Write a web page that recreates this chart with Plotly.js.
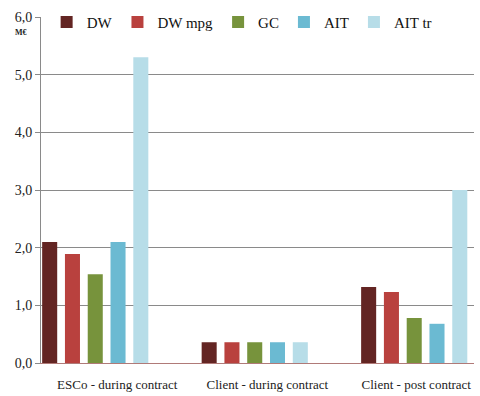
<!DOCTYPE html>
<html>
<head>
<meta charset="utf-8">
<script src="https://cdn.plot.ly/plotly-3.0.1.min.js"></script>
<style>html,body{margin:0;padding:0;background:#fff;}#chart{width:480px;height:396px;}</style>
</head>
<body>
<div id="chart"></div>
<script>
var categories = ["ESCo - during contract", "Client - during contract", "Client - post contract"];
var seriesNames = ["DW", "DW mpg", "GC", "AIT", "AIT tr"];
var DW = [2.1, 0.36, 1.32];
var DWmpg = [1.89, 0.36, 1.23];
var GC = [1.54, 0.36, 0.78];
var AIT = [2.1, 0.36, 0.68];
var AITtr = [5.3, 0.36, 3.0];
var emptyA = [0, 0, 0];
var emptyB = [0, 0, 0];
var yTicks = [0, 1, 2, 3, 4, 5, 6];
var colors = ["#632523", "#B9413E", "#77933C", "#6BBAD2", "#B7DDE8"];

var xIdx = categories.map(function(c, i){ return i; });
var values = [DW, DWmpg, GC, AIT, AITtr];
var traces = values.map(function(v, k){
  return {type:"bar", x:xIdx, y:v, name:seriesNames[k], marker:{color:colors[k]}, hoverinfo:"none"};
});
traces.push({type:"bar", x:xIdx, y:emptyA, showlegend:false, marker:{color:"#B9413E"}});
traces.push({type:"bar", x:xIdx, y:emptyB, showlegend:false, marker:{color:"#B9413E"}});

var serif = "Liberation Serif";
var layout = {
  width:480, height:396,
  margin:{l:41, r:6, t:7, b:33},
  paper_bgcolor:"#fff", plot_bgcolor:"#fff",
  separators:",.",
  barmode:"group", bargap:0, bargroupgap:0.34,
  font:{family:serif, size:14, color:"#222"},
  xaxis:{
    range:[-0.483, 2.232],
    tickmode:"array",
    tickvals:[-0.005, 0.936, 1.87],
    ticktext:categories,
    showgrid:false, zeroline:false, showline:true, linecolor:"#B07A78", linewidth:1,
    ticks:"", ticklabelstandoff:9,
    tickfont:{family:serif, size:13, color:"#222"}
  },
  yaxis:{
    range:[0, 6],
    tickmode:"array", tickvals:yTicks,
    tickformat:".1f",
    showgrid:true, gridcolor:"#8a8a8a", gridwidth:1,
    zeroline:false, showline:true, linecolor:"#8a8a8a", linewidth:1,
    ticks:"outside", ticklen:5, tickcolor:"#8a8a8a",
    tickfont:{family:serif, size:14, color:"#222"}
  },
  legend:{orientation:"h", x:0.013, xanchor:"left", y:0.985, yanchor:"middle",
    bgcolor:"rgba(0,0,0,0)", font:{family:serif, size:15, color:"#111"},
    itemwidth:30, traceorder:"normal"},
  annotations:[{text:"<b>M€</b>", xref:"paper", yref:"paper", x:-0.047, y:0.955,
    xanchor:"center", yanchor:"middle", showarrow:false,
    font:{family:serif, size:8, color:"#222"}}]
};
Plotly.newPlot("chart", traces, layout, {staticPlot:true, displayModeBar:false});
</script>
</body>
</html>
